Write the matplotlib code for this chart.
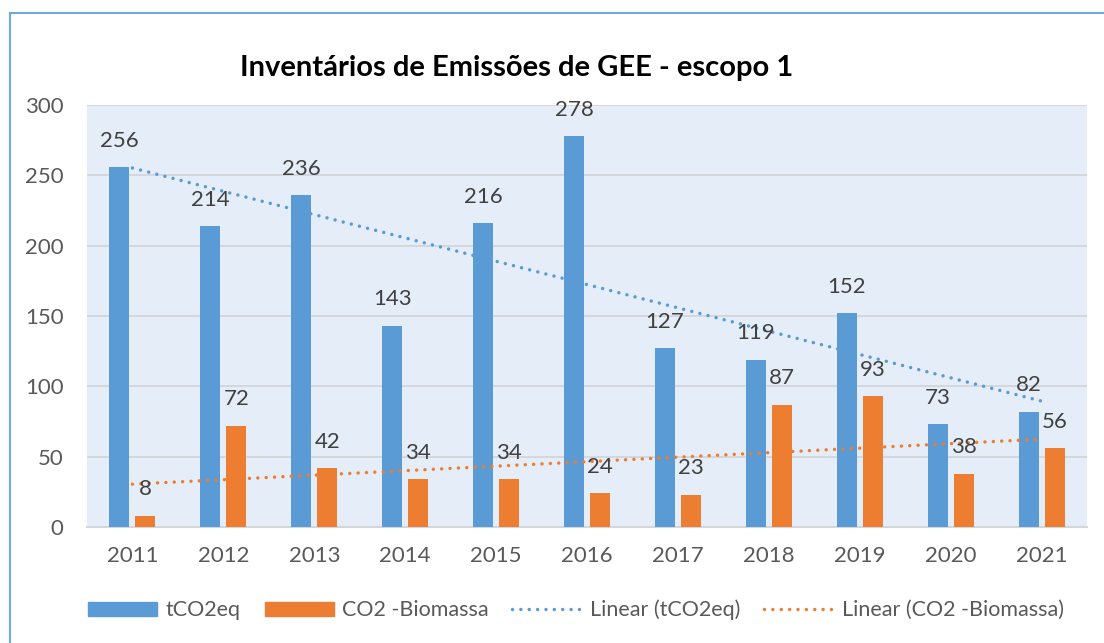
import matplotlib
matplotlib.use("Agg")
import matplotlib.pyplot as plt
import numpy as np
from matplotlib.patches import Rectangle, Patch
from matplotlib.lines import Line2D

years = ["2011", "2012", "2013", "2014", "2015", "2016", "2017", "2018", "2019", "2020", "2021"]
tco2eq = [256, 214, 236, 143, 216, 278, 127, 119, 152, 73, 82]
biomassa = [8, 72, 42, 34, 34, 24, 23, 87, 93, 38, 56]
title = "Inventários de Emissões de GEE - escopo 1"
series_names = ["tCO2eq", "CO2 -Biomassa", "Linear (tCO2eq)", "Linear (CO2 -Biomassa)"]

BLUE = "#5B9BD5"
ORANGE = "#ED7D31"
LABEL = "#404040"
TICK = "#595959"

plt.rcParams['font.family'] = ['Lato', 'DejaVu Sans']

fig = plt.figure(figsize=(11.04, 6.43), dpi=100)
fig.patch.set_facecolor("white")
ax = fig.add_axes([87/1104, 1-527/643, 1000/1104, 422/643])
ax.set_facecolor("#E5EEF8")

x = np.arange(len(years))
w = 0.22
off = 0.143
ax.bar(x - off, tco2eq, w, color=BLUE, zorder=3)
ax.bar(x + off, biomassa, w, color=ORANGE, zorder=3)

for xi, v in zip(x - off, tco2eq):
    ax.annotate(str(v), (xi, v), xytext=(0, 19), textcoords="offset points",
                ha="center", va="center", fontsize=16, color=LABEL, zorder=5)
for xi, v in zip(x + off, biomassa):
    ax.annotate(str(v), (xi, v), xytext=(0, 19), textcoords="offset points",
                ha="center", va="center", fontsize=16, color=LABEL, zorder=5)

# linear trendlines (least squares, as in the spreadsheet)
xs = x + 1
DOT = (0, (0.01, 2.4))
for vals, col in ((tco2eq, BLUE), (biomassa, ORANGE)):
    m, b = np.polyfit(xs, vals, 1)
    ax.plot(x, m * xs + b, color=col, lw=2.5, linestyle=DOT,
            dash_capstyle="round", zorder=4)

ax.set_xlim(-0.5, len(years) - 0.5)
ax.set_ylim(0, 300)
ax.set_yticks(range(0, 301, 50))
ax.set_xticks(x)
ax.set_xticklabels(years)
ax.tick_params(axis="both", length=0, labelsize=16, colors=TICK)
ax.tick_params(axis="y", pad=17)
ax.tick_params(axis="x", pad=14)
ax.grid(axis="y", color="#D3D6DA", lw=1.3, zorder=1)
for s in ["top", "right", "left"]:
    ax.spines[s].set_visible(False)
ax.spines["bottom"].set_color("#D3D6DA")
ax.spines["bottom"].set_linewidth(1.5)
ax.spines["bottom"].set_zorder(2)

fig.text(517/1104, 1-68/643, title, ha="center", va="center",
         fontsize=21, fontweight="bold", color="black")

# figure border
fig.patches.append(Rectangle((10/1104, -0.05), 1.2, 1.05 - 13/643,
                             transform=fig.transFigure, fill=False,
                             edgecolor="#6FA8DC", lw=1.5))

handles = [Patch(color=BLUE), Patch(color=ORANGE),
           Line2D([], [], color=BLUE, lw=2.5, linestyle=DOT, dash_capstyle="round"),
           Line2D([], [], color=ORANGE, lw=2.5, linestyle=DOT, dash_capstyle="round")]
leg = fig.legend(handles, series_names, loc="center", bbox_to_anchor=(576/1104, 1-610/643),
                 ncol=4, frameon=False, fontsize=15.5, handlelength=3.2, handleheight=0.65,
                 handletextpad=0.4, columnspacing=1.1, labelcolor=TICK)

fig.savefig("out.png", dpi=100)
